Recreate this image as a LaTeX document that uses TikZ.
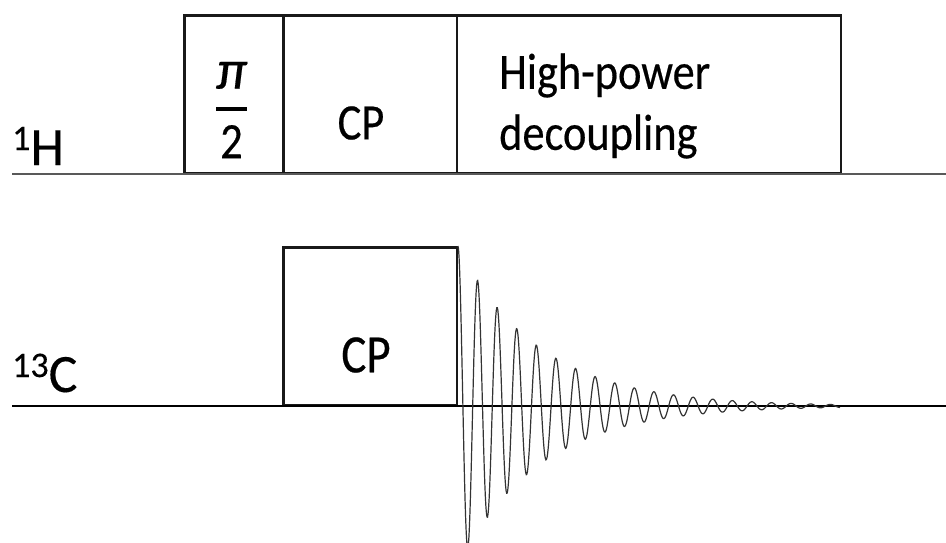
\documentclass[tikz,border=0pt]{standalone}
\usepackage{fontspec}
\setmainfont[FakeStretch=0.87,FakeBold=0.4]{Carlito}
\newfontfamily\nucleusfont[FakeBold=0.3]{Carlito}
\usetikzlibrary{positioning}
\newcommand{\isotope}[2]{\raisebox{15pt}{\fontsize{36}{40}\selectfont #1}#2}
\tikzset{
  pulse/.style={draw, line width=2.4pt, black!90, outer sep=0pt, inner sep=0pt, minimum height=158pt},
  lbl/.style={inner sep=0pt, font=\fontsize{51}{61}\selectfont},
  nucleus/.style={inner sep=0pt, anchor=base west, font=\nucleusfont\fontsize{54}{60}\selectfont},
  axis/.style={line width=1.8pt},
  fid/.style={line width=1.2pt, black!80}
}

\begin{document}
\begin{tikzpicture}[x=1pt, y=-1pt]
  \useasboundingbox (0,0) rectangle (946,542);
  % proton channel
  \node[pulse, minimum width=99pt, anchor=north west] (hpi) at (184.5,15.5) {};
  \node[pulse, minimum width=173.5pt, right=0pt of hpi] (hcp) {};
  \node[pulse, minimum width=384pt, right=0pt of hcp] (hdec) {};
  % carbon channel
  \node[pulse, minimum width=173.5pt, anchor=north west] (ccp) at (283.5,247.5) {};
  \coordinate (hstart) at (12,174);
  \coordinate (hend) at (946,174);
  \coordinate (cstart) at (12,406);
  \coordinate (cend) at (946,406);
  \draw[axis, black!65] (hstart) -- (hend);
  \draw[axis, line width=1.5pt] (cstart) -- (cend);
  \draw[fid] plot[domain=0:382, samples=700] ({458+\x}, {406-160*exp(-0.01235*\x)*cos(\x/19.6*360)});
  % labels
  \node[nucleus] (hlabel) at (12,165) {\isotope{1}{H}};
  \node[nucleus] (clabel) at (12,392) {\isotope{13}{C}};
  \node[fill=black, inner sep=0pt, minimum width=31pt, minimum height=3.4pt] (pibar) at (231.5,109) {};
  \node[lbl, font=\nucleusfont\fontsize{56}{60}\selectfont\itshape, above=18pt of pibar] (pilabel) {π};
  \node[lbl, below=14pt of pibar] (twolabel) {2};
  \node[lbl] (hcplabel) at (361,123) {CP};
  \node[lbl, font=\fontsize{54}{60}\selectfont] (ccplabel) at (366,355) {CP};
  \node[lbl, align=left, anchor=west] (declabel) at (499,106) {High-power\\decoupling};
\end{tikzpicture}
\end{document}
